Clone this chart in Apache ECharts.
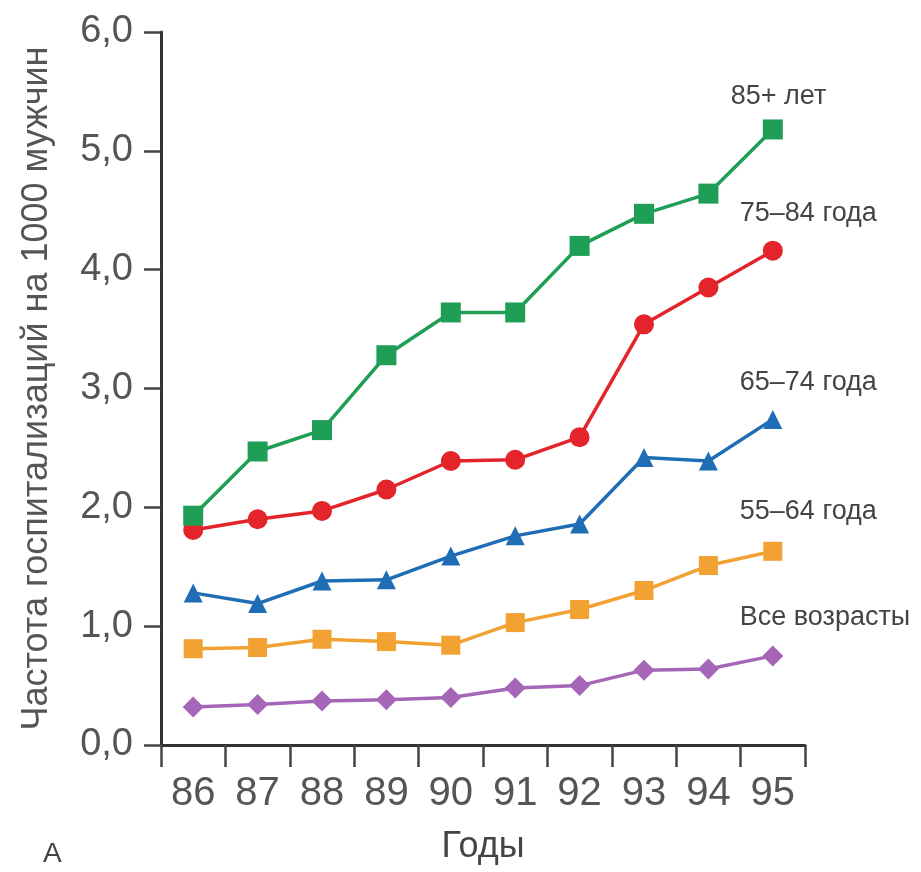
<!DOCTYPE html>
<html>
<head>
<meta charset="utf-8">
<script src="https://cdn.jsdelivr.net/npm/echarts@6/dist/echarts.min.js"></script>
<style>
html,body{margin:0;padding:0;background:#fff;}
#c{width:921px;height:872px;}
</style>
</head>
<body>
<div id="c"></div>
<script>
const years = ['86','87','88','89','90','91','92','93','94','95'];
const seriesNames = ['85+ лет','75–84 года','65–74 года','55–64 года','Все возрасты'];
const s85 = [1.93, 2.47, 2.65, 3.28, 3.64, 3.64, 4.20, 4.47, 4.64, 5.18];
const s75 = [1.81, 1.90, 1.97, 2.15, 2.39, 2.40, 2.59, 3.54, 3.85, 4.16];
const s65 = [1.28, 1.19, 1.38, 1.39, 1.59, 1.76, 1.86, 2.42, 2.39, 2.74];
const s55 = [0.81, 0.82, 0.89, 0.87, 0.84, 1.03, 1.14, 1.30, 1.51, 1.63];
const sAll = [0.32, 0.34, 0.37, 0.38, 0.40, 0.48, 0.50, 0.63, 0.64, 0.75];
const yTicks = [0,1,2,3,4,5,6];

const font = "'Liberation Sans',Arial,sans-serif";

const styles = [
  {color:'#1f9e55', symbol:'rect', size:20, dx:-42, dy:-33},
  {color:'#e3242b', symbol:'circle', size:20, dx:-33, dy:-37},
  {color:'#1f6db5', symbol:'triangle', size:19, dx:-33, dy:-37},
  {color:'#f2a232', symbol:'rect', size:19, dx:-33, dy:-40},
  {color:'#a666b8', symbol:'diamond', size:21, dx:-33, dy:-38}
];
const allValues = [s85, s75, s65, s55, sAll];

const series = allValues.map((vals, k) => {
  const st = styles[k];
  const last = vals.length - 1;
  return {
    name: seriesNames[k],
    type: 'line',
    symbol: st.symbol,
    symbolSize: st.size,
    lineStyle: {color: st.color, width: 3.5},
    itemStyle: {color: st.color},
    data: vals.map((v, i) => i === last ? {
      value: v,
      label: {
        show: true,
        formatter: seriesNames[k],
        position: 'inside',
        align: 'left',
        verticalAlign: 'middle',
        offset: [st.dx, st.dy],
        fontFamily: font,
        fontSize: 27,
        color: '#444'
      }
    } : v),
    z: 10 - k,
    animation: false
  };
});

const chart = echarts.init(document.getElementById('c'));
chart.setOption({
  animation: false,
  backgroundColor: '#fff',
  grid: {left: 161, right: 116, top: 32, bottom: 127, containLabel: false, outerBoundsMode: 'none'},
  xAxis: {
    type: 'category',
    data: years,
    boundaryGap: true,
    name: 'Годы',
    nameLocation: 'middle',
    nameGap: 84,
    nameTextStyle: {fontFamily: font, fontSize: 36, color: '#444'},
    axisLine: {lineStyle: {color: '#333', width: 3}},
    axisTick: {show: true, length: 22, lineStyle: {color: '#444', width: 2.5}},
    axisLabel: {margin: 29, fontFamily: font, fontSize: 40, color: '#555'},
    splitLine: {show: false}
  },
  yAxis: {
    type: 'value',
    min: yTicks[0],
    max: yTicks[yTicks.length - 1],
    interval: 1,
    name: 'Частота госпитализаций на 1000 мужчин',
    nameLocation: 'middle',
    nameGap: 106,
    nameTextStyle: {fontFamily: font, fontSize: 36, color: '#555'},
    axisLine: {show: true, lineStyle: {color: '#333', width: 3}},
    axisTick: {show: true, length: 17, lineStyle: {color: '#444', width: 2.5}},
    axisLabel: {
      margin: 28,
      fontFamily: font,
      fontSize: 38,
      color: '#555',
      formatter: v => v.toFixed(1).replace('.', ',')
    },
    splitLine: {show: false}
  },
  graphic: [{
    type: 'text',
    left: 43,
    top: 840,
    style: {text: 'А', fontFamily: font, fontSize: 28, fill: '#444'}
  }],
  series: series
});
</script>
</body>
</html>
